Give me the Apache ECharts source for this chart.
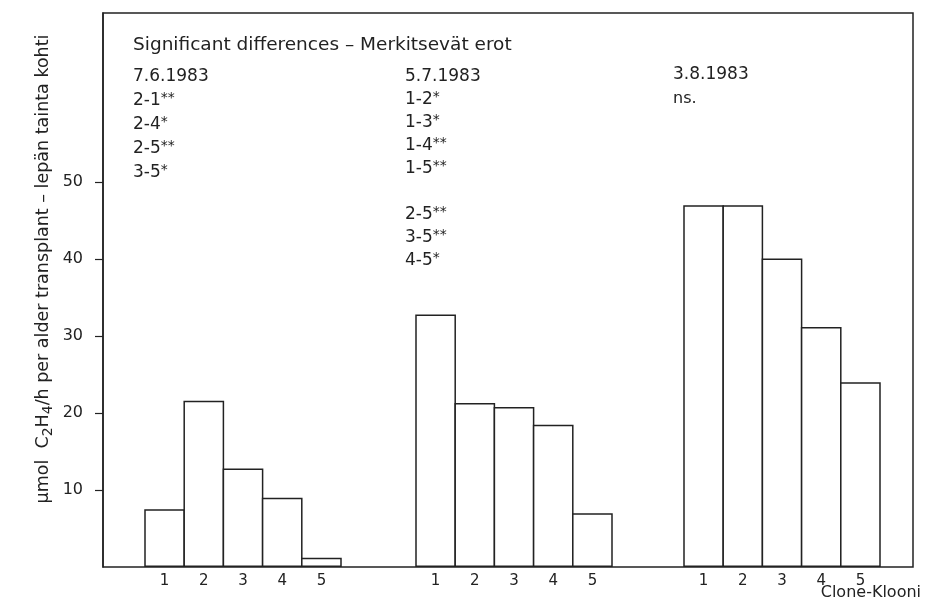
<!DOCTYPE html>
<html>
<head>
<meta charset="utf-8">
<script src="https://cdn.jsdelivr.net/npm/echarts@6/dist/echarts.min.js"></script>
<style>
html,body{margin:0;padding:0;background:#fff;}
#chart{width:933px;height:605px;}
</style>
</head>
<body>
<div id="chart"></div>
<script>
// ---- data ----
const clones = ['1', '2', '3', '4', '5'];
const dates = ['7.6.1983', '5.7.1983', '3.8.1983'];
const june = [7.5, 21.6, 12.8, 9.0, 1.2];
const july = [32.8, 21.3, 20.8, 18.5, 7.0];
const august = [47.0, 47.0, 40.1, 31.2, 24.0];
const yTicks = [10, 20, 30, 40, 50];
const sigJune = [['2-1', '**'], ['2-4', '*'], ['2-5', '**'], ['3-5', '*']];
const sigJuly = [['1-2', '*'], ['1-3', '*'], ['1-4', '**'], ['1-5', '**'], null, ['2-5', '**'], ['3-5', '**'], ['4-5', '*']];
const sigAugust = 'ns.';
const titleText = 'Significant differences \u2013 Merkitsevät erot';
const xName = 'Clone-Klooni';

// ---- layout ----
const FONT = '"DejaVu Sans", sans-serif';
const INK = '#222';
const TOP = 13, BOTTOM = 38, YMAX = 72;
const groupLefts = [145, 416, 684];
const groupWidth = 196;
const BORDER = 1.5;
const seriesValues = [june, july, august];

const chart = echarts.init(document.getElementById('chart'), null, {renderer: 'canvas'});

const grids = [{left: 103, right: 20, top: TOP, bottom: BOTTOM, show: true, borderColor: INK, borderWidth: 1.5, backgroundColor: 'transparent'}];
const xAxes = [{gridIndex: 0, type: 'value', min: 0, max: 1, show: false}];
const yAxes = [{
  gridIndex: 0, type: 'value', min: 0, max: YMAX, interval: 10,
  axisLine: {show: true, lineStyle: {color: INK, width: 1.5}},
  axisTick: {show: true, inside: false, length: 8, customValues: yTicks, lineStyle: {color: INK, width: 1.2}},
  axisLabel: {show: true, customValues: yTicks, margin: 20, color: INK, fontSize: 16, fontFamily: FONT},
  splitLine: {show: false}
}];
const series = [];
groupLefts.forEach((left, i) => {
  grids.push({left: left, width: groupWidth, top: TOP, bottom: BOTTOM});
  xAxes.push({
    gridIndex: i + 1, type: 'category', data: clones,
    axisLine: {show: false}, axisTick: {show: false},
    axisLabel: {color: INK, fontSize: 15, fontFamily: FONT, margin: 7}
  });
  yAxes.push({gridIndex: i + 1, type: 'value', min: 0, max: YMAX, show: false, splitLine: {show: false}});
  series.push({
    type: 'bar', name: dates[i], xAxisIndex: i + 1, yAxisIndex: i + 1,
    data: seriesValues[i], barWidth: groupWidth / clones.length + BORDER, silent: true,
    itemStyle: {color: '#fff', borderColor: INK, borderWidth: BORDER}
  });
});

const rich = {
  n: {fontSize: 17, fontFamily: FONT, fill: INK, color: INK, lineHeight: 20},
  s: {fontSize: 14, fontFamily: FONT, fill: INK, color: INK, verticalAlign: 'top', lineHeight: 20},
  sub: {fontSize: 14, fontFamily: FONT, fill: INK, color: INK, verticalAlign: 'bottom', lineHeight: 24},
  y: {fontSize: 17.5, fontFamily: FONT, fill: INK, color: INK, lineHeight: 20}
};

function sigText(x, y, pair) {
  return {type: 'text', x: x, y: y, style: {text: '{n|' + pair[0] + '}{s|' + pair[1] + '}', rich: rich, verticalAlign: 'middle', fill: INK}};
}
function plainText(x, y, t, size) {
  return {type: 'text', x: x, y: y, style: {text: t, fontSize: size, fontFamily: FONT, fill: INK, verticalAlign: 'middle'}};
}

const graphics = [];
graphics.push(plainText(133, 45, titleText, 18.5));
graphics.push(plainText(133, 77, dates[0], 17));
sigJune.forEach((p, k) => graphics.push(sigText(133, 101 + k * 24, p)));
graphics.push(plainText(405, 77, dates[1], 17));
sigJuly.forEach((p, k) => { if (p) graphics.push(sigText(405, 100 + k * 23, p)); });
graphics.push(plainText(673, 75, dates[2], 17));
graphics.push(plainText(673, 99, sigAugust, 16));
graphics.push({type: 'text', x: 921, y: 593, style: {text: xName, fontSize: 16, fontFamily: FONT, fill: INK, align: 'right', verticalAlign: 'middle'}});
graphics.push({
  type: 'text', x: 43, y: 269, rotation: Math.PI / 2,
  style: {
    text: '{y|µmol  C}{sub|2}{y|H}{sub|4}{y|/h per alder transplant \u2013 lepän tainta kohti}',
    rich: rich, align: 'center', verticalAlign: 'middle', fill: INK
  }
});

chart.setOption({
  backgroundColor: '#fff',
  animation: false,
  grid: grids,
  xAxis: xAxes,
  yAxis: yAxes,
  series: series,
  graphic: graphics
});
</script>
</body>
</html>
